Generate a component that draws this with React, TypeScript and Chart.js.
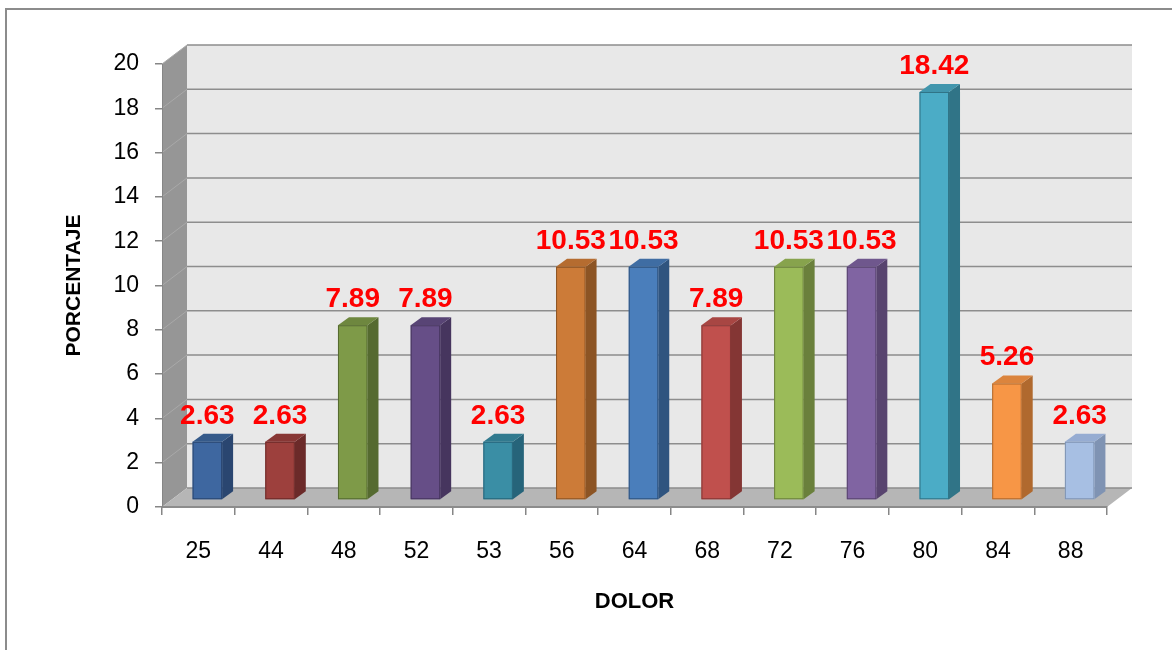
import { useEffect, useRef } from "react";
import { Chart, registerables } from "chart.js";

Chart.register(...registerables);

// Pain score categories and the share of patients in each (percent)
const categories = ["25", "44", "48", "52", "53", "56", "64", "68", "72", "76", "80", "84", "88"];
const percentages = [2.63, 2.63, 7.89, 7.89, 2.63, 10.53, 10.53, 7.89, 10.53, 10.53, 18.42, 5.26, 2.63];

// Face colours of each 3D column: front, right side, top
const frontColors = ["#3e67a0", "#9d403d", "#7e9a48", "#664e87", "#3a8ea5", "#cc7b38", "#4a7ebb", "#c0504d", "#9bbb59", "#8064a2", "#4bacc6", "#f79646", "#a7bfe3"];
const sideColors = ["#2a4670", "#6b2a29", "#556a30", "#46355e", "#26647a", "#8c5424", "#2f547f", "#843634", "#6a803c", "#58446f", "#307487", "#b0692e", "#7f93b3"];
const topColors = ["#355a8a", "#883735", "#6e873f", "#584475", "#317a8f", "#b56c30", "#3f6da3", "#a84643", "#87a34d", "#6f578d", "#4296ad", "#db843d", "#96acd2"];

const FONT = "'Liberation Sans', Arial, sans-serif";

// Perspective offsets: back wall vs. front plane, column plane, column depth
const WALL_DX = 25;
const WALL_DY = 19;
const COL_DX = 9;
const COL_DY = 7;
const DEPTH_DX = 11;
const DEPTH_DY = 8;

const scene3d = {
  id: "scene3d",
  beforeDraw(chart: any) {
    const { ctx, chartArea: a, scales } = chart;
    const y = scales.y;
    ctx.save();

    // outer frame
    ctx.strokeStyle = "#8c8c8c";
    ctx.lineWidth = 2;
    ctx.strokeRect(6, 9, 1300, 800);

    // left side wall
    ctx.fillStyle = "#969696";
    ctx.beginPath();
    ctx.moveTo(a.left, a.top);
    ctx.lineTo(a.left + WALL_DX, a.top - WALL_DY);
    ctx.lineTo(a.left + WALL_DX, a.bottom - WALL_DY);
    ctx.lineTo(a.left, a.bottom);
    ctx.closePath();
    ctx.fill();

    // back wall
    ctx.fillStyle = "#e8e8e8";
    ctx.fillRect(a.left + WALL_DX, a.top - WALL_DY, a.right - a.left, a.bottom - a.top);

    // floor
    ctx.fillStyle = "#b6b6b6";
    ctx.beginPath();
    ctx.moveTo(a.left, a.bottom);
    ctx.lineTo(a.left + WALL_DX, a.bottom - WALL_DY);
    ctx.lineTo(a.right + WALL_DX, a.bottom - WALL_DY);
    ctx.lineTo(a.right, a.bottom);
    ctx.closePath();
    ctx.fill();

    // gridlines on the back wall and the side wall
    y.ticks.forEach((t: any) => {
      const py = y.getPixelForValue(t.value);
      ctx.strokeStyle = "#8d8d8d";
      ctx.lineWidth = 1.5;
      ctx.beginPath();
      ctx.moveTo(a.left + WALL_DX, py - WALL_DY);
      ctx.lineTo(a.right + WALL_DX, py - WALL_DY);
      ctx.stroke();
      if (t.value > 0) {
        ctx.strokeStyle = "#a9a9a9";
        ctx.lineWidth = 1;
        ctx.beginPath();
        ctx.moveTo(a.left, py);
        ctx.lineTo(a.left + WALL_DX, py - WALL_DY);
        ctx.stroke();
      }
    });
    ctx.restore();
  },
  afterDatasetsDraw(chart: any) {
    const { ctx } = chart;
    const meta = chart.getDatasetMeta(0);
    const labels: { x: number; y: number; text: string }[] = [];
    ctx.save();
    meta.data.forEach((el: any, i: number) => {
      const { x, y, base, width } = el.getProps(["x", "y", "base", "width"], true);
      const l = x - width / 2 + COL_DX;
      const r = x + width / 2 + COL_DX;
      const t = y - COL_DY;
      const b = base - COL_DY;

      // right side face
      ctx.fillStyle = sideColors[i];
      ctx.beginPath();
      ctx.moveTo(r, t);
      ctx.lineTo(r + DEPTH_DX, t - DEPTH_DY);
      ctx.lineTo(r + DEPTH_DX, b - DEPTH_DY);
      ctx.lineTo(r, b);
      ctx.closePath();
      ctx.fill();

      // top face
      ctx.fillStyle = topColors[i];
      ctx.beginPath();
      ctx.moveTo(l, t);
      ctx.lineTo(r, t);
      ctx.lineTo(r + DEPTH_DX, t - DEPTH_DY);
      ctx.lineTo(l + DEPTH_DX, t - DEPTH_DY);
      ctx.closePath();
      ctx.fill();

      // front face
      ctx.fillStyle = frontColors[i];
      ctx.fillRect(l, t, r - l, b - t);
      ctx.strokeStyle = sideColors[i];
      ctx.lineWidth = 1;
      ctx.strokeRect(l + 0.5, t + 0.5, r - l - 1, b - t - 1);

      labels.push({ x: (l + r) / 2, y: t - 18, text: percentages[i].toFixed(2) });
    });

    // value labels
    ctx.fillStyle = "#ff0000";
    ctx.font = `bold 28px ${FONT}`;
    ctx.textAlign = "center";
    ctx.textBaseline = "alphabetic";
    labels.forEach((lb) => ctx.fillText(lb.text, lb.x, lb.y));
    ctx.restore();
  },
};

export default function App() {
  const canvasRef = useRef<HTMLCanvasElement | null>(null);

  useEffect(() => {
    const canvas = canvasRef.current;
    if (!canvas) return;
    const chart = new Chart(canvas, {
      type: "bar",
      data: {
        labels: categories,
        datasets: [
          {
            data: percentages,
            backgroundColor: "rgba(0,0,0,0)",
            borderWidth: 0,
            categoryPercentage: 1,
            barPercentage: 0.406,
          },
        ],
      },
      options: {
        responsive: false,
        animation: false,
        events: [],
        layout: { padding: { left: 0, top: 64, right: 65, bottom: 0 } },
        plugins: {
          legend: { display: false },
          tooltip: { enabled: false },
        },
        scales: {
          x: {
            grid: {
              display: true,
              drawOnChartArea: false,
              drawTicks: true,
              tickLength: 8,
              color: "#868686",
              lineWidth: 1.5,
              offset: true,
            },
            border: { display: true, color: "#8c8c8c", width: 2 },
            ticks: {
              font: { family: FONT, size: 23 },
              color: "#000",
              padding: 23,
              maxRotation: 0,
              autoSkip: false,
            },
            title: {
              display: true,
              text: "DOLOR",
              font: { family: FONT, size: 22, weight: "bold" },
              color: "#000",
              padding: { top: 0, bottom: 35 },
            },
            afterFit(scale: any) {
              scale.height = 143;
            },
          },
          y: {
            min: 0,
            max: 20,
            ticks: {
              stepSize: 2,
              font: { family: FONT, size: 23 },
              color: "#000",
              padding: 16,
            },
            grid: {
              display: true,
              drawOnChartArea: false,
              drawTicks: true,
              tickLength: 7,
              color: "#868686",
              lineWidth: 1.5,
            },
            border: { display: true, color: "#868686", width: 1 },
            title: {
              display: true,
              text: "PORCENTAJE",
              font: { family: FONT, size: 21, weight: "bold" },
              color: "#000",
              padding: { top: 62, bottom: 0 },
            },
            afterFit(scale: any) {
              scale.width = 162;
            },
          },
        },
      } as any,
      plugins: [scene3d],
    });
    return () => chart.destroy();
  }, []);

  return (
    <div
      style={{
        position: "absolute",
        left: 0,
        top: 0,
        width: 1172,
        height: 650,
        overflow: "hidden",
        background: "#ffffff",
      }}
    >
      <canvas ref={canvasRef} width={1172} height={650} style={{ display: "block" }} />
    </div>
  );
}
